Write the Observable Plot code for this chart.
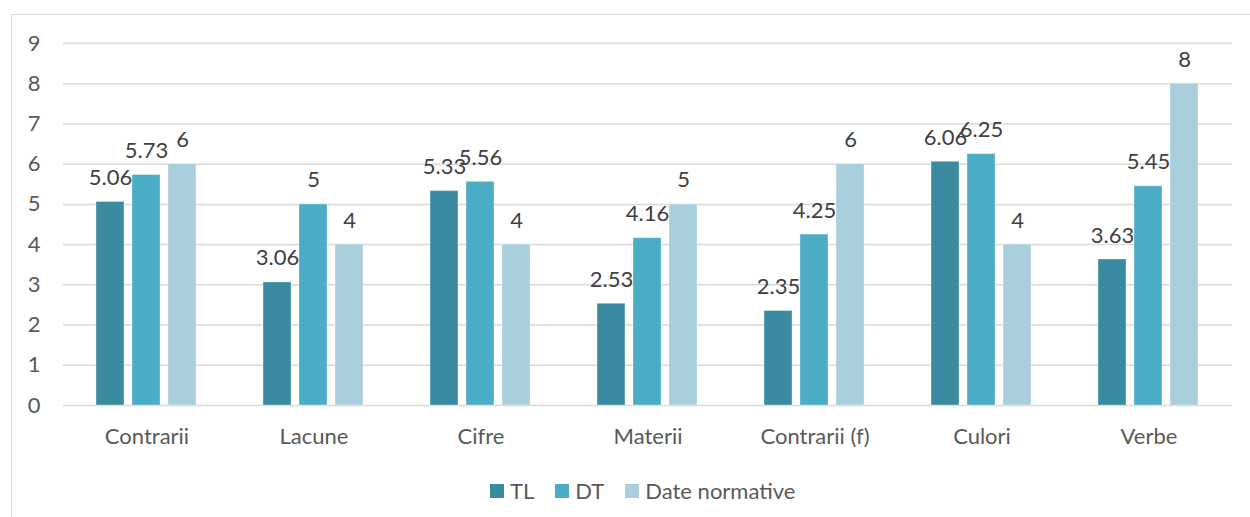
<!DOCTYPE html>
<html>
<head>
<meta charset="utf-8">
<script src="https://cdn.jsdelivr.net/npm/d3@7"></script>
<script src="https://cdn.jsdelivr.net/npm/@observablehq/plot@0.6"></script>
<style>
  body { margin: 0; background: #fff; font-family: Lato, "Open Sans", sans-serif; }
  #frame { position: absolute; left: 11px; top: 14px; width: 1400px; height: 700px;
           border-left: 1.5px solid #d9d9d9; border-top: 1.5px solid #d9d9d9; }
  #chart { position: absolute; left: 0; top: 0; }
  #legend { position: absolute; left: 490px; top: 477px; display: flex; align-items: center;
            font-size: 22px; color: #595959; }
  #legend .item { display: flex; align-items: center; margin-right: 21px; }
  #legend .sw { width: 14px; height: 14px; margin-right: 6px; }
</style>
</head>
<body>
<div id="frame"></div>
<div id="chart"></div>
<div id="legend"></div>
<script>
// Test categories
const categories = ["Contrarii", "Lacune", "Cifre", "Materii", "Contrarii (f)", "Culori", "Verbe"];
// Series
const series = ["TL", "DT", "Date normative"];
const colors = ["#3a8ba1", "#4aacc5", "#a9cedc"];
// Mean scores per test
const tl = [5.06, 3.06, 5.33, 2.53, 2.35, 6.06, 3.63];
const dt = [5.73, 5, 5.56, 4.16, 4.25, 6.25, 5.45];
const normative = [6, 4, 4, 5, 6, 4, 8];
const yTicks = [0, 1, 2, 3, 4, 5, 6, 7, 8, 9];

const rows = [];
categories.forEach((c, i) => {
  rows.push({cat: c, series: series[0], value: tl[i]});
  rows.push({cat: c, series: series[1], value: dt[i]});
  rows.push({cat: c, series: series[2], value: normative[i]});
});

const chart = Plot.plot({
  width: 1250,
  height: 460,
  marginLeft: 62,
  marginRight: 18,
  marginTop: 43,
  marginBottom: 55,
  style: {fontFamily: "Lato, 'Open Sans', sans-serif", fontSize: "22px", color: "#595959", background: "transparent"},
  fx: {domain: categories, padding: 0, label: null, axis: "bottom", tickSize: 0, tickPadding: 23},
  x: {domain: series, paddingInner: 0.216, paddingOuter: 0.865, axis: null},
  y: {domain: [0, 9], ticks: yTicks, tickSize: 0, tickPadding: 23, label: null},
  color: {domain: series, range: colors},
  marks: [
    Plot.ruleY(yTicks, {stroke: "#d9d9d9", strokeWidth: 1.5}),
    Plot.barY(rows, {fx: "cat", x: "series", y: "value", fill: "series", stroke: "#ffffff", strokeOpacity: 0.35, strokeWidth: 1}),
    Plot.text(rows, {fx: "cat", x: "series", y: "value", text: d => String(d.value),
      dy: -24, fill: "#404040", fontSize: 22})
  ]
});
document.getElementById("chart").appendChild(chart);

const legend = document.getElementById("legend");
series.forEach((s, i) => {
  const item = document.createElement("div");
  item.className = "item";
  const sw = document.createElement("div");
  sw.className = "sw";
  sw.style.background = colors[i];
  const label = document.createElement("span");
  label.textContent = s;
  item.appendChild(sw);
  item.appendChild(label);
  legend.appendChild(item);
});
</script>
</body>
</html>
